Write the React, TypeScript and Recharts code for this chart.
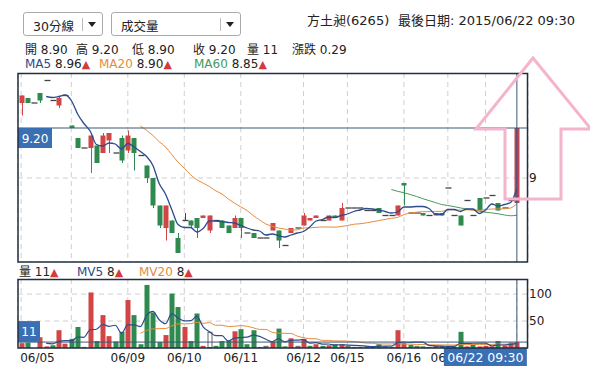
import React from 'react'
import { ComposedChart, Bar, Line, XAxis, YAxis, CartesianGrid, ReferenceLine } from 'recharts'

const FONT = '"DejaVu Sans", "Noto Sans CJK TC", sans-serif'

// 30分線 K棒（由圖讀取的估計值）
const open = [
  9.30, 9.32, 9.30, 9.34, 9.39, 9.31, 9.29, 9.33, 9.21, 9.16,
  9.12, 9.12, 9.13, 9.10, 9.15, 9.10, 9.16, 9.11, 9.16, 9.09,
  9.05, 9.00, 8.89, 8.80, 8.83, 8.76, 8.83, 8.83, 8.84, 8.84,
  8.79, 8.83, 8.83, 8.81, 8.80, 8.84, 8.78, 8.78, 8.76, 8.76,
  8.79, 8.79, 8.73, 8.78, 8.80, 8.81, 8.83, 8.84, 8.83, 8.83,
  8.85, 8.83, 8.88, 8.88, 8.88, 8.87, 8.87, 8.88, 8.85, 8.85,
  8.85, 8.98, 8.86, 8.86, 8.86, 8.85, 8.85, 8.86, 8.96, 8.85,
  8.85, 8.91, 8.85, 8.92, 8.92, 8.93, 8.90, 8.88, 8.91, 8.90,
]
const high = [
  9.33, 9.32, 9.30, 9.34, 9.39, 9.31, 9.33, 9.33, 9.21, 9.16,
  9.12, 9.17, 9.13, 9.18, 9.18, 9.10, 9.17, 9.19, 9.16, 9.09,
  9.05, 9.00, 8.89, 8.89, 8.83, 8.78, 8.86, 8.83, 8.84, 8.85,
  8.85, 8.83, 8.83, 8.81, 8.85, 8.84, 8.78, 8.78, 8.76, 8.76,
  8.82, 8.79, 8.73, 8.80, 8.80, 8.86, 8.84, 8.85, 8.83, 8.85,
  8.85, 8.90, 8.88, 8.88, 8.88, 8.87, 8.87, 8.88, 8.85, 8.85,
  8.89, 8.98, 8.86, 8.86, 8.86, 8.85, 8.86, 8.86, 8.96, 8.85,
  8.85, 8.91, 8.85, 8.92, 8.92, 8.93, 8.90, 8.88, 8.91, 9.20,
]
const low = [
  9.25, 9.30, 9.30, 9.30, 9.39, 9.31, 9.28, 9.33, 9.20, 9.12,
  9.12, 9.02, 9.06, 9.10, 9.10, 9.10, 9.06, 9.10, 9.03, 9.09,
  8.98, 8.88, 8.80, 8.75, 8.78, 8.70, 8.83, 8.80, 8.76, 8.84,
  8.78, 8.83, 8.80, 8.78, 8.80, 8.76, 8.78, 8.76, 8.76, 8.76,
  8.79, 8.72, 8.73, 8.78, 8.80, 8.81, 8.83, 8.84, 8.83, 8.83,
  8.84, 8.83, 8.88, 8.88, 8.88, 8.87, 8.87, 8.86, 8.85, 8.85,
  8.85, 8.89, 8.86, 8.86, 8.85, 8.85, 8.85, 8.85, 8.96, 8.85,
  8.81, 8.91, 8.85, 8.87, 8.92, 8.93, 8.87, 8.88, 8.91, 8.90,
]
const close = [
  9.33, 9.30, 9.30, 9.31, 9.39, 9.31, 9.32, 9.33, 9.20, 9.12,
  9.12, 9.17, 9.06, 9.17, 9.18, 9.10, 9.07, 9.17, 9.10, 9.09,
  9.00, 8.89, 8.81, 8.89, 8.78, 8.70, 8.83, 8.81, 8.80, 8.85,
  8.85, 8.83, 8.80, 8.78, 8.84, 8.80, 8.78, 8.76, 8.76, 8.76,
  8.82, 8.75, 8.73, 8.80, 8.80, 8.85, 8.84, 8.85, 8.83, 8.85,
  8.84, 8.88, 8.88, 8.88, 8.88, 8.87, 8.87, 8.86, 8.85, 8.85,
  8.89, 8.97, 8.86, 8.86, 8.85, 8.85, 8.86, 8.85, 8.96, 8.85,
  8.81, 8.91, 8.85, 8.87, 8.92, 8.93, 8.87, 8.88, 8.91, 9.20,
]
const volume = [
  9, 10, 1, 20, 3, 5, 33, 8, 17, 39,
  2, 103, 13, 61, 22, 12, 30, 89, 61, 7,
  117, 66, 11, 24, 101, 76, 39, 13, 64, 4,
  30, 4, 13, 14, 31, 35, 7, 33, 2, 4,
  12, 36, 3, 18, 4, 17, 4, 7, 4, 5,
  7, 7, 4, 2, 2, 3, 2, 7, 3, 2,
  33, 9, 6, 4, 3, 2, 4, 4, 2, 3,
  30, 3, 6, 3, 4, 3, 13, 4, 10, 11,
]

// 每日第一根的位置；06/08 與 06/18 的日期在原圖被擋住，不畫
const dayStarts = [0, 8, 17, 26, 35, 45, 52, 61, 68, 74]
const dayLabels = ['06/05', '', '06/09', '06/10', '06/11', '06/12', '06/15', '06/16', '06/17', '']
const priceTicks = [9]
const volumeTicks = [50, 100]

const stockName = '方土昶(6265)'
const lastTime = '2015/06/22 09:30'
const lastTimeShort = '06/22 09:30'

const PRICE_MIN = 8.664
const PRICE_MAX = 9.42
const VOL_MAX = 128

const RED = '#d24545'
const GREEN = '#2f8a50'
const ACTIVE_RED = '#c0435a'
const DOJI = '#444'
const BLUE = '#2c4b8c'
const ORANGE = '#e68c3e'
const MA_GREEN = '#45995e'
const TAG = '#3a6fb4'
const LINE = '#3b5877'
const GRID = '#cfcfcf'

const avg = (arr: number[], i: number, n: number) => {
  if (i < n - 1) return null
  let s = 0
  for (let k = i - n + 1; k <= i; k++) s += arr[k]
  return s / n
}

const rows = close.map((c, i) => ({
  i,
  open: open[i],
  high: high[i],
  low: low[i],
  close: c,
  vol: volume[i],
  dir: i === 0 ? Math.sign(c - open[i]) : Math.sign(c - close[i - 1]),
  ma5: avg(close, i, 5),
  ma20: avg(close, i, 20),
  ma60: avg(close, i, 60),
  mv5: avg(volume, i, 5),
  mv20: avg(volume, i, 20),
}))

const last = rows[rows.length - 1]
const change = last.close - rows[rows.length - 2].close
const axisTicks = [...dayStarts, last.i]

function Candle(props: any) {
  const { x, y, width, height, payload } = props
  const { open, high, low, close } = payload
  const k = height / (high - PRICE_MIN)
  const py = (v: number) => y + (high - v) * k
  const cx = Math.round(x + width / 2) + 0.5
  if (open === close) {
    return (
      <g>
        {high > low && <line x1={cx} x2={cx} y1={py(high)} y2={py(low)} stroke={DOJI} />}
        <line x1={cx - 3} x2={cx + 3} y1={py(close)} y2={py(close)} stroke={DOJI} strokeWidth={1.3} />
      </g>
    )
  }
  const color = payload.i === last.i ? ACTIVE_RED : close > open ? RED : GREEN
  const top = py(Math.max(open, close))
  const bot = py(Math.min(open, close))
  return (
    <g>
      <line x1={cx} x2={cx} y1={py(high)} y2={py(low)} stroke={color} />
      <rect x={cx - 3} y={top} width={5} height={Math.max(1.5, bot - top)} fill={color} />
    </g>
  )
}

function VolBar(props: any) {
  const { x, y, width, height, payload } = props
  const cx = Math.round(x + width / 2)
  if (payload.dir === 0) {
    return <rect x={cx - 2} y={y + 0.5} width={4} height={Math.max(0, height - 1)} fill="#fff" stroke="#666" />
  }
  return <rect x={cx - 2.5} y={y} width={5} height={height} fill={payload.dir > 0 ? RED : GREEN} />
}

const PriceTag = (props: any) => {
  const { x, y } = props.viewBox
  return (
    <g>
      <rect x={x} y={y} width={34} height={20} fill={TAG} />
      <text x={x + 17} y={y + 14.5} textAnchor="middle" fill="#fff" fontSize={12} fontFamily={FONT}>
        {last.close.toFixed(2)}
      </text>
    </g>
  )
}

const VolTag = (props: any) => {
  const { x, y } = props.viewBox
  return (
    <g>
      <rect x={x} y={y - 21} width={22} height={21} fill={TAG} />
      <text x={x + 11} y={y - 6} textAnchor="middle" fill="#fff" fontSize={12} fontFamily={FONT}>
        {last.vol}
      </text>
    </g>
  )
}

// 最後一個刻度畫成十字線的時間標籤，蓋在日期上面
const DayTick = (props: any) => {
  const { x, y, payload } = props
  if (payload.value === last.i) {
    const top = y - 5
    return (
      <g>
        <rect x={x + 10 - 83} y={top} width={83} height={18} fill={TAG} />
        <text x={x + 10 - 41.5} y={top + 13.5} textAnchor="middle" fill="#fff" fontSize={12.5} fontFamily={FONT}>
          {lastTimeShort}
        </text>
      </g>
    )
  }
  const label = dayLabels[dayStarts.indexOf(payload.value)]
  if (!label) return null
  const first = payload.value === dayStarts[0]
  return (
    <text x={first ? x - 1 : x} y={y} dy="0.71em" textAnchor={first ? 'start' : 'middle'} fill="#222" fontSize={12} fontFamily={FONT}>
      {label}
    </text>
  )
}

const Tri = () => <span style={{ color: '#d63a3a', fontSize: 11 }}>▲</span>

const Dropdown = ({ left, width, text, sep }: { left: number; width: number; text: string; sep: number }) => (
  <div style={{ position: 'absolute', left, top: 12, width, height: 22, border: '1px solid #aaa', borderRadius: 3, background: '#fff' }}>
    <span style={{ position: 'absolute', left: 9, top: 3, fontSize: 12.5 }}>{text}</span>
    <div style={{ position: 'absolute', left: sep, top: 5, width: 1, height: 13, background: '#bbb' }} />
    <div style={{ position: 'absolute', left: sep + 6, top: 9, width: 0, height: 0, borderLeft: '4px solid transparent', borderRight: '4px solid transparent', borderTop: '5px solid #222' }} />
  </div>
)

const row = (top: number, left: number) => ({ position: 'absolute' as const, top, left, fontSize: 12, lineHeight: '16px', whiteSpace: 'nowrap' as const })

export default function App() {
  return (
    <div style={{ position: 'absolute', left: 0, top: 0, width: 590, height: 385, background: '#fff', fontFamily: FONT, color: '#222', overflow: 'hidden' }}>
      <Dropdown left={23} width={78} text="30分線" sep={58} />
      <Dropdown left={111} width={128} text="成交量" sep={108} />
      <div style={{ ...row(13, 307), fontSize: 13 }}>{stockName}</div>
      <div style={{ ...row(13, 398), fontSize: 13 }}>最後日期: {lastTime}</div>

      <div style={row(42, 25)}>開 {last.open.toFixed(2)}</div>
      <div style={row(42, 76)}>高 {last.high.toFixed(2)}</div>
      <div style={row(42, 132)}>低 {last.low.toFixed(2)}</div>
      <div style={row(42, 193)}>收 {last.close.toFixed(2)}</div>
      <div style={row(42, 247)}>量 {last.vol}</div>
      <div style={row(42, 292)}>漲跌 {change.toFixed(2)}</div>

      <div style={row(56, 25)}><span style={{ color: BLUE }}>MA5</span> {last.ma5!.toFixed(2)}<Tri /></div>
      <div style={row(56, 99)}><span style={{ color: ORANGE }}>MA20</span> {last.ma20!.toFixed(2)}<Tri /></div>
      <div style={row(56, 194)}><span style={{ color: MA_GREEN }}>MA60</span> {last.ma60!.toFixed(2)}<Tri /></div>

      <div style={row(264, 19)}>量 {last.vol}<Tri /></div>
      <div style={row(264, 77)}><span style={{ color: BLUE }}>MV5</span> {Math.round(last.mv5!)}<Tri /></div>
      <div style={row(264, 139)}><span style={{ color: ORANGE }}>MV20</span> {Math.round(last.mv20!)}<Tri /></div>

      <div style={{ position: 'absolute', left: 0, top: 73 }}>
        <ComposedChart width={590} height={189} data={rows} margin={{ top: 0, right: 0, bottom: 0, left: 18 }}>
          <CartesianGrid stroke={GRID} strokeDasharray="5 4" />
          <XAxis dataKey="i" type="category" ticks={dayStarts} interval={0} hide padding={{ left: 0, right: 8 }} />
          <YAxis
            orientation="right"
            width={62}
            domain={[PRICE_MIN, PRICE_MAX]}
            ticks={priceTicks}
            axisLine={false}
            tickLine={false}
            tickSize={0}
            tickMargin={1}
            tick={{ fill: '#222', fontSize: 12, fontFamily: FONT }}
          />
          <Bar dataKey={(d: any) => [PRICE_MIN, d.high]} barSize={5} shape={(p: any) => <Candle {...p} />} isAnimationActive={false} />
          <Line dataKey="ma60" type="monotone" stroke={MA_GREEN} strokeWidth={1} dot={false} activeDot={false} isAnimationActive={false} />
          <Line dataKey="ma20" type="monotone" stroke={ORANGE} strokeWidth={1} dot={false} activeDot={false} isAnimationActive={false} />
          <Line dataKey="ma5" type="monotone" stroke={BLUE} strokeWidth={1.3} dot={false} activeDot={false} isAnimationActive={false} />
          <ReferenceLine y={last.close} stroke={LINE} label={(p: any) => <PriceTag {...p} />} />
          <ReferenceLine x={last.i} stroke={LINE} />
        </ComposedChart>
      </div>

      <div style={{ position: 'absolute', left: 0, top: 279 }}>
        <ComposedChart width={590} height={89} data={rows} margin={{ top: 0, right: 0, bottom: 0, left: 18 }}>
          <CartesianGrid stroke={GRID} strokeDasharray="5 4" />
          <XAxis
            dataKey="i"
            type="category"
            ticks={axisTicks}
            interval={0}
            height={20}
            axisLine={false}
            tickLine={false}
            tickSize={0}
            tickMargin={5}
            padding={{ left: 0, right: 8 }}
            tick={(p: any) => <DayTick {...p} />}
          />
          <YAxis
            orientation="right"
            width={62}
            domain={[0, VOL_MAX]}
            ticks={volumeTicks}
            axisLine={false}
            tickLine={false}
            tickSize={0}
            tickMargin={1}
            tick={{ fill: '#222', fontSize: 12, fontFamily: FONT }}
          />
          <Bar dataKey="vol" barSize={5} shape={(p: any) => <VolBar {...p} />} isAnimationActive={false} />
          <Line dataKey="mv20" type="monotone" stroke={ORANGE} strokeWidth={1} dot={false} activeDot={false} isAnimationActive={false} />
          <Line dataKey="mv5" type="monotone" stroke={BLUE} strokeWidth={1.2} dot={false} activeDot={false} isAnimationActive={false} />
          <ReferenceLine y={last.vol} stroke={LINE} label={(p: any) => <VolTag {...p} />} />
          <ReferenceLine x={last.i} stroke={LINE} />
        </ComposedChart>
      </div>

      <svg width={590} height={385} style={{ position: 'absolute', left: 0, top: 0, pointerEvents: 'none' }}>
        <rect x={18} y={73.5} width={509.5} height={188.5} fill="none" stroke="#1f2f40" strokeWidth={1.5} />
        <rect x={18} y={279.5} width={509.5} height={68.5} fill="none" stroke="#1f2f40" strokeWidth={1.5} />
        <polygon
          points="533,58 591,129 561,129 561,199 505,199 505,129 476,129"
          fill="none"
          stroke="#f5b4cd"
          strokeWidth={3}
        />
      </svg>
    </div>
  )
}
